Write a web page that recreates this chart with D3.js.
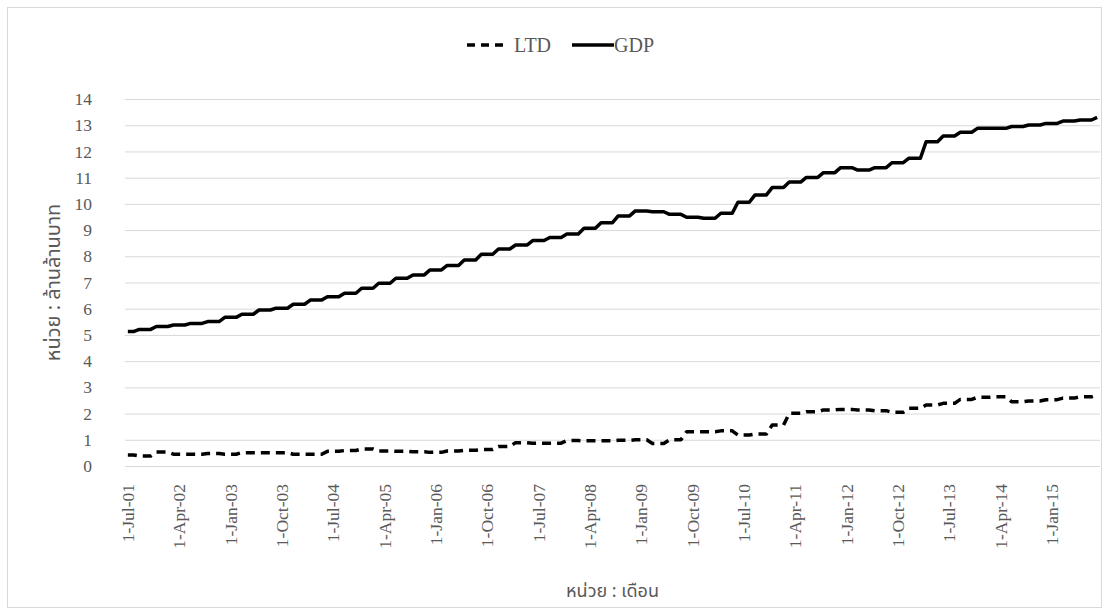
<!DOCTYPE html>
<html>
<head>
<meta charset="utf-8">
<script src="https://cdn.jsdelivr.net/npm/d3@7"></script>
<style>
  html, body { margin: 0; padding: 0; background: #ffffff; }
  svg { display: block; }
</style>
</head>
<body>
<svg id="chart" width="1107" height="615"></svg>
<script>
// ---------------- data ----------------
// monthly categories: Jul 2001 .. Sep 2015 (171 months)
const months = d3.timeMonth.range(new Date(2001, 6, 1), new Date(2015, 9, 1)).map(d3.timeFormat("%Y-%m"));

const tickLabels = ["1-Jul-01","1-Apr-02","1-Jan-03","1-Oct-03","1-Jul-04","1-Apr-05","1-Jan-06",
  "1-Oct-06","1-Jul-07","1-Apr-08","1-Jan-09","1-Oct-09","1-Jul-10","1-Apr-11","1-Jan-12",
  "1-Oct-12","1-Jul-13","1-Apr-14","1-Jan-15"];

const yTicks = [0,1,2,3,4,5,6,7,8,9,10,11,12,13,14];

const seriesNames = ["LTD", "GDP"];

// GDP (trillion baht), one value per month
const gdp = [
5.13,5.13,
5.21,5.21,5.21, 5.32,5.32,5.32, 5.38,5.38,5.38, 5.44,5.44,5.44,
5.51,5.51,5.51, 5.67,5.67,5.67, 5.79,5.79,5.79, 5.95,5.95,5.95,
6.02,6.02,6.02, 6.17,6.17,6.17, 6.33,6.33,6.33, 6.46,6.46,6.46,
6.59,6.59,6.59, 6.78,6.78,6.78, 6.97,6.97,6.97, 7.16,7.16,7.16,
7.29,7.29,7.29, 7.48,7.48,7.48, 7.65,7.65,7.65, 7.86,7.86,7.86,
8.08,8.08,8.08, 8.28,8.28,8.28, 8.43,8.43,8.43, 8.60,8.60,8.60,
8.72,8.72,8.72, 8.85,8.85,8.85, 9.07,9.07,9.07, 9.28,9.28,9.28,
9.54,9.54,9.54, 9.73,9.73,9.73, 9.70,9.70,9.70, 9.60,9.60,9.60,
9.49,9.49,9.49, 9.45,9.45,9.45, 9.64,9.64,9.64, 10.06,10.06,10.06,
10.34,10.34,10.34, 10.62,10.62,10.62, 10.83,10.83,10.83, 11.01,11.01,11.01,
11.19,11.19,11.19, 11.38,11.38,11.38, 11.29,11.29,11.29, 11.38,11.38,11.38,
11.57,11.57,11.57, 11.74,11.74,11.74, 12.37,12.37,12.37, 12.59,12.59,12.59,
12.73,12.73,12.73, 12.88,12.88,12.88, 12.88,12.88,12.88, 12.95,12.95,12.95,
13.01,13.01,13.01, 13.07,13.07,13.07, 13.16,13.16,13.16, 13.20,13.20,13.20,
13.30
];

// LTD (trillion baht), one value per month
const ltd = [
0.42,0.42,
0.38,0.38,0.38, 0.53,0.53,0.53, 0.45,0.45,0.45, 0.45,0.45,0.45,
0.48,0.48,0.48, 0.45,0.45,0.45, 0.51,0.51,0.51, 0.51,0.51,0.51,
0.51,0.51,0.51, 0.45,0.45,0.45, 0.45,0.45,0.45, 0.56,0.56,0.56,
0.59,0.59,0.59, 0.65,0.65,0.65, 0.57,0.57,0.57, 0.56,0.56,0.56,
0.54,0.54,0.54, 0.52,0.52,0.52, 0.57,0.57,0.57, 0.60,0.60,0.60,
0.63,0.63,0.63, 0.74,0.74,0.74, 0.89,0.89,0.89, 0.87,0.87,0.87,
0.87,0.87,0.87, 0.97,0.97,0.97, 0.96,0.96,0.96, 0.96,0.96,0.96,
0.98,0.98,0.98, 1.00,1.00,1.00, 0.86,0.86,0.86, 1.00,1.00,1.00,
1.31,1.31,1.31, 1.31,1.31,1.31, 1.34,1.34,1.34, 1.18,1.18,1.18,
1.22,1.22,1.22, 1.56,1.56,1.56, 2.01,2.01,2.01, 2.07,2.07,2.07,
2.14,2.14,2.14, 2.16,2.16,2.16, 2.14,2.14,2.14, 2.11,2.11,2.11,
2.05,2.05,2.05, 2.20,2.20,2.20, 2.33,2.33,2.33, 2.39,2.39,2.39,
2.54,2.54,2.54, 2.62,2.62,2.62, 2.64,2.64,2.64, 2.45,2.45,2.45,
2.48,2.48,2.48, 2.53,2.53,2.53, 2.59,2.59,2.59, 2.64,2.64,2.64,
2.71
];

const yTitle = "หน่วย : ล้านล้านบาท";
const xTitle = "หน่วย : เดือน";

// ---------------- drawing ----------------
const svg = d3.select("#chart");
const W = 1107, H = 615;
const plot = { left: 125, right: 1100, top: 99, bottom: 466 };
const textColor = "#595959";
const serif = "'Liberation Serif', 'Times New Roman', serif";
const thai = "'Noto Sans Thai', 'Noto Sans Thai UI', 'Leelawadee UI', Tahoma, 'Noto Sans', sans-serif";

svg.append("rect").attr("x", 0).attr("y", 0).attr("width", W).attr("height", H).attr("fill", "#fff");
svg.append("rect").attr("x", 7.5).attr("y", 7.5).attr("width", 1094).attr("height", 600)
  .attr("fill", "none").attr("stroke", "#d9d9d9").attr("stroke-width", 1);

const x = d3.scalePoint().domain(months).range([plot.left, plot.right]).padding(0.5);
const y = d3.scaleLinear().domain([0, 14]).range([plot.bottom, plot.top]);

// gridlines
svg.append("g")
  .attr("transform", `translate(${plot.left},0)`)
  .call(d3.axisLeft(y).tickValues(yTicks).tickSize(-(plot.right - plot.left)).tickFormat(""))
  .call(g => g.select(".domain").remove())
  .call(g => g.selectAll("line").attr("stroke", "#d9d9d9").attr("stroke-width", 1));

// y axis labels
svg.append("g")
  .attr("transform", `translate(${plot.left},0)`)
  .call(d3.axisLeft(y).tickValues(yTicks).tickSize(0).tickPadding(33).tickFormat(d3.format("d")))
  .call(g => g.select(".domain").remove())
  .call(g => g.selectAll("text").attr("fill", textColor).style("font-family", serif).style("font-size", "17.5px"));

// x axis labels
const parseTick = d3.timeParse("%d-%b-%y");
const fmtKey = d3.timeFormat("%Y-%m");
const tickKeys = tickLabels.map(s => fmtKey(parseTick(s)));
const labelOf = new Map(tickKeys.map((k, i) => [k, tickLabels[i]]));

const xAxisG = svg.append("g")
  .attr("transform", `translate(0,${plot.bottom})`)
  .call(d3.axisBottom(x).tickValues(tickKeys).tickSize(0).tickFormat(k => labelOf.get(k)))
  .call(g => g.select(".domain").remove());
xAxisG.selectAll("text")
  .attr("fill", textColor)
  .style("font-family", serif).style("font-size", "17.5px")
  .attr("text-anchor", "end")
  .attr("transform", "rotate(-90)")
  .attr("x", -18).attr("y", 0).attr("dy", "0.33em");

// lines
const line = d3.line().x((d, i) => x(months[i])).y(d => y(d));

svg.append("path").datum(gdp)
  .attr("d", line).attr("fill", "none").attr("stroke", "#000")
  .attr("stroke-width", 3.5).attr("stroke-linejoin", "round");

svg.append("path").datum(ltd)
  .attr("d", line).attr("fill", "none").attr("stroke", "#000")
  .attr("stroke-width", 3.5).attr("stroke-linejoin", "round")
  .attr("stroke-dasharray", "9,6");

// legend
const lg = svg.append("g");
lg.append("line").attr("x1", 467).attr("x2", 504).attr("y1", 45).attr("y2", 45)
  .attr("stroke", "#000").attr("stroke-width", 3.5).attr("stroke-dasharray", "8,6");
lg.append("text").attr("x", 514).attr("y", 52).text(seriesNames[0])
  .attr("fill", textColor).style("font-family", serif).style("font-size", "20px");
lg.append("line").attr("x1", 572).attr("x2", 614).attr("y1", 45).attr("y2", 45)
  .attr("stroke", "#000").attr("stroke-width", 3.5);
lg.append("text").attr("x", 614).attr("y", 52).text(seriesNames[1])
  .attr("fill", textColor).style("font-family", serif).style("font-size", "20px");

// axis titles
svg.append("text")
  .attr("transform", `translate(60,${(plot.top + plot.bottom) / 2}) rotate(-90)`)
  .attr("text-anchor", "middle")
  .attr("fill", textColor).style("font-family", thai).style("font-size", "20px")
  .text(yTitle);

svg.append("text")
  .attr("x", (plot.left + plot.right) / 2).attr("y", 597)
  .attr("text-anchor", "middle")
  .attr("fill", textColor).style("font-family", thai).style("font-size", "18px")
  .text(xTitle);
</script>
</body>
</html>
